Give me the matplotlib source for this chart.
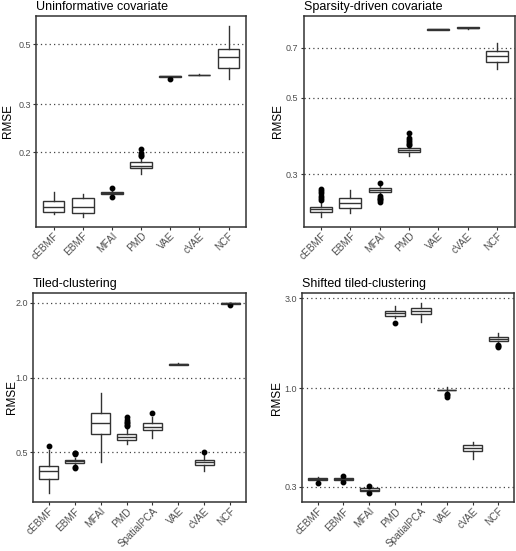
import matplotlib
matplotlib.use("Agg")
import matplotlib.pyplot as plt
from matplotlib.ticker import NullLocator

plt.rcParams['font.family'] = ['Liberation Sans', 'DejaVu Sans']

# ---------------- data ----------------
methods_a = ["cEBMF", "EBMF", "MFAI", "PMD", "VAE", "cVAE", "NCF"]
methods_b = ["cEBMF", "EBMF", "MFAI", "PMD", "SpatialPCA", "VAE", "cVAE", "NCF"]

# Panel 1: Uninformative covariate
p1_title = "Uninformative covariate"
p1_q1 = [0.1207, 0.1200, 0.1409, 0.1747, 0.3795, 0.3850, 0.407]
p1_med = [0.1256, 0.1262, 0.1420, 0.1786, 0.3804, 0.3856, 0.447]
p1_q3 = [0.1321, 0.1355, 0.1428, 0.1838, 0.3812, 0.3862, 0.479]
p1_lo = [0.1184, 0.1160, 0.1395, 0.1665, 0.3785, 0.3840, 0.371]
p1_hi = [0.1426, 0.1402, 0.1445, 0.1906, 0.3820, 0.3875, 0.582]
p1_fl = [[], [], [0.1475, 0.1374], [0.1946, 0.1960, 0.1988, 0.2057], [0.3718], [], []]
p1_ticks = [0.2, 0.3, 0.5]
p1_ticklabels = ["0.2", "0.3", "0.5"]
p1_ylim = (0.1063, 0.634)

# Panel 2: Sparsity-driven covariate
p2_title = "Sparsity-driven covariate"
p2_q1 = [0.2326, 0.2389, 0.2660, 0.3490, 0.7895, 0.7975, 0.6375]
p2_med = [0.2373, 0.2471, 0.2701, 0.3537, 0.7918, 0.8004, 0.661]
p2_q3 = [0.2415, 0.2565, 0.2732, 0.3585, 0.7940, 0.8030, 0.6848]
p2_lo = [0.2259, 0.2320, 0.2612, 0.3398, 0.7880, 0.7960, 0.6058]
p2_hi = [0.2497, 0.2701, 0.2812, 0.3633, 0.7960, 0.8050, 0.724]
p2_fl = [[0.2526, 0.256, 0.260, 0.264, 0.268, 0.2714], [],
         [0.2586, 0.2563, 0.2542, 0.252, 0.250, 0.2835],
         [0.365, 0.3685, 0.3724, 0.3765, 0.3825, 0.3947], [], [], []]
p2_ticks = [0.3, 0.5, 0.7]
p2_ticklabels = ["0.3", "0.5", "0.7"]
p2_ylim = (0.2108, 0.8656)

# Panel 3: Tiled-clustering
p3_title = "Tiled-clustering"
p3_q1 = [0.3902, 0.4527, 0.5926, 0.562, 0.6134, 1.125, 0.4457, 1.990]
p3_med = [0.4191, 0.4600, 0.6545, 0.5763, 0.634, 1.132, 0.4557, 1.995]
p3_q3 = [0.4403, 0.4668, 0.7182, 0.591, 0.6563, 1.139, 0.4655, 2.000]
p3_lo = [0.3436, 0.4450, 0.4582, 0.5386, 0.5694, 1.120, 0.4203, 1.985]
p3_hi = [0.5108, 0.4750, 0.8647, 0.619, 0.692, 1.145, 0.4876, 2.005]
p3_fl = [[0.532], [0.490, 0.495, 0.499, 0.4334, 0.437], [],
         [0.638, 0.647, 0.656, 0.665, 0.675, 0.696], [0.722], [], [0.500], [1.968]]
p3_ticks = [0.5, 1.0, 2.0]
p3_ticklabels = ["0.5", "1.0", "2.0"]
p3_ylim = (0.3143, 2.2)

# Panel 4: Shifted tiled-clustering
p4_title = "Shifted tiled-clustering"
p4_q1 = [0.3253, 0.3265, 0.2855, 2.426, 2.468, 0.975, 0.4651, 1.788]
p4_med = [0.3305, 0.3305, 0.2900, 2.507, 2.569, 0.979, 0.4825, 1.832]
p4_q3 = [0.3358, 0.3346, 0.2950, 2.569, 2.655, 0.985, 0.5005, 1.877]
p4_lo = [0.3220, 0.3230, 0.2820, 2.350, 2.238, 0.965, 0.4219, 1.760]
p4_hi = [0.3399, 0.3380, 0.2990, 2.731, 2.843, 1.012, 0.5173, 1.971]
p4_fl = [[0.3136], [0.3428, 0.3174], [0.3045, 0.2776], [2.219], [],
         [0.933, 0.920, 0.9026], [], [1.697, 1.675, 1.656]]
p4_ticks = [0.3, 1.0, 3.0]
p4_ticklabels = ["0.3", "1.0", "3.0"]
p4_ylim = (0.2487, 3.2)

# ---------------- figure ----------------
fig = plt.figure(figsize=(5.16, 5.51), dpi=100)

W, H = 516.0, 551.0
def rect(l, r, t, b):
    return [l / W, 1 - b / H, (r - l) / W, (b - t) / H]

panels = [
    (rect(36, 246, 16, 227), -0.133, methods_a, p1_title, p1_q1, p1_med, p1_q3, p1_lo, p1_hi, p1_fl, p1_ticks, p1_ticklabels, p1_ylim),
    (rect(303.5, 514.5, 16, 227), -0.123, methods_a, p2_title, p2_q1, p2_med, p2_q3, p2_lo, p2_hi, p2_fl, p2_ticks, p2_ticklabels, p2_ylim),
    (rect(33, 246, 292.7, 502.3), -0.099, methods_b, p3_title, p3_q1, p3_med, p3_q3, p3_lo, p3_hi, p3_fl, p3_ticks, p3_ticklabels, p3_ylim),
    (rect(302, 514, 293, 502.3), -0.116, methods_b, p4_title, p4_q1, p4_med, p4_q3, p4_lo, p4_hi, p4_fl, p4_ticks, p4_ticklabels, p4_ylim),
]

edge = '#333333'
for r, lx, meths, title, q1, med, q3, lo, hi, fl, ticks, tlabels, ylim in panels:
    ax = fig.add_axes(r)
    stats = []
    for i, m in enumerate(meths):
        stats.append(dict(label=m, q1=q1[i], med=med[i], q3=q3[i],
                          whislo=lo[i], whishi=hi[i], fliers=fl[i]))
    pos = list(range(1, len(meths) + 1))
    ax.set_yscale('log')
    for t in ticks:
        ax.axhline(t, color='#444444', lw=0.9, ls=(0, (1, 2.5)), zorder=0)
    ax.bxp(stats, positions=pos, widths=0.75, showcaps=False, patch_artist=True,
           boxprops=dict(facecolor='white', edgecolor=edge, linewidth=1.0),
           medianprops=dict(color=edge, linewidth=1.0),
           whiskerprops=dict(color=edge, linewidth=1.0),
           flierprops=dict(marker='o', markerfacecolor='black', markeredgecolor='black',
                           markersize=3.2, linestyle='none'))
    ax.set_xlim(0.4, len(meths) + 0.6)
    ax.set_ylim(*ylim)
    ax.yaxis.set_minor_locator(NullLocator())
    ax.set_yticks(ticks)
    ax.set_yticklabels(tlabels)
    ax.set_xticks(pos)
    ax.set_xticklabels(meths, rotation=45, ha='right', rotation_mode='anchor')
    ax.tick_params(axis='both', length=2.2, width=0.8, color='#333333',
                   labelcolor='#4d4d4d')
    ax.tick_params(axis='y', labelsize=6.5, pad=1.5)
    ax.tick_params(axis='x', labelsize=7.2, pad=0.5)
    for s in ax.spines.values():
        s.set_color('#333333')
        s.set_linewidth(1.1)
    ax.set_ylabel("RMSE", fontsize=8.5, va='center')
    ax.yaxis.set_label_coords(lx, 0.5)
    ax.set_title(title, loc='left', fontsize=9, pad=4)

fig.savefig("out.png", dpi=100)
